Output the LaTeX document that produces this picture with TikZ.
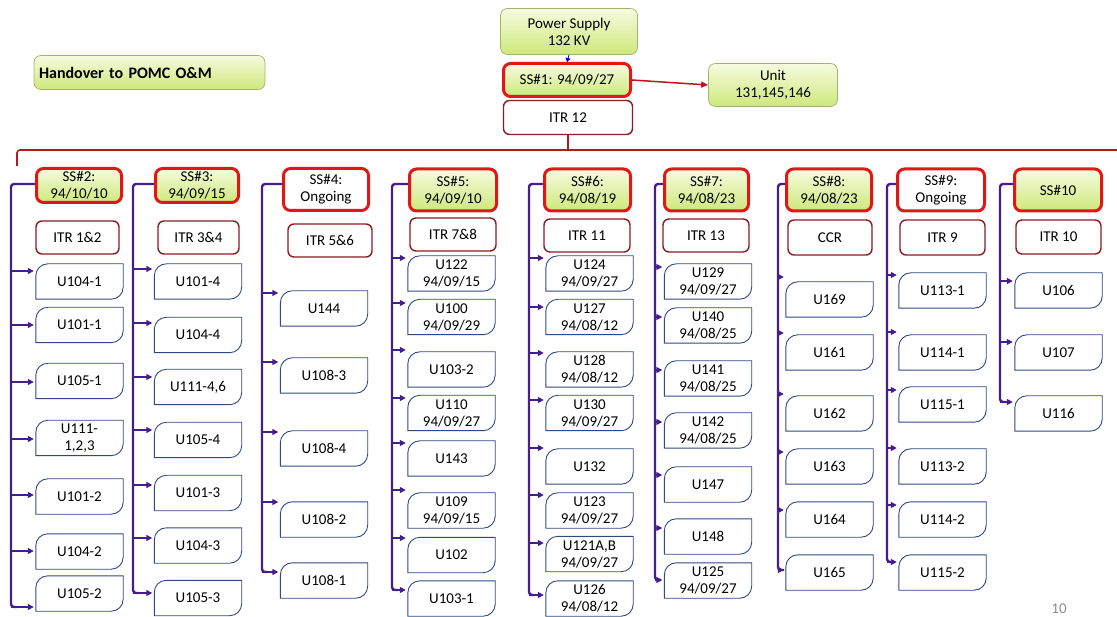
\documentclass[tikz,border=0pt]{standalone}
\usepackage{fontspec}
\setmainfont{Carlito}
\usetikzlibrary{arrows.meta,calc}
\definecolor{ssred}{RGB}{226,22,22}
\definecolor{itrred}{RGB}{140,28,36}
\definecolor{busred}{RGB}{190,20,30}
\definecolor{ublue}{RGB}{46,72,130}
\definecolor{vpurple}{RGB}{68,30,140}
\definecolor{gtop}{RGB}{246,251,224}
\definecolor{gbot}{RGB}{206,232,122}
\definecolor{gborder}{RGB}{160,180,110}
\newcommand\btxt{\fontsize{15}{17}\selectfont}
\newcommand\uitem[6]{%
  \node[ubox] (#1) at (#3,-#4) {#6};
  \draw[ushape] (#1.south west) -- ([yshift=-12pt]#1.north west) arc[start angle=180,end angle=90,radius=12pt] -- (#1.north east) -- ([yshift=12pt]#1.south east) arc[start angle=0,end angle=-90,radius=12pt] -- cycle;
  \draw[uarrow] (#2 |- 0,-#5) -- (#1.west |- 0,-#5);
}
\newcommand\colline[3]{%
  \coordinate (#2) at (#3,-184);
  \draw[vline, rounded corners=3pt] (#1.west |- #2) -- (#2) -- (#2 |- 0,-\lasty) -- ++(6,0);
}
\begin{document}
\begin{tikzpicture}[x=1pt,y=1pt,
  greenbox/.style={draw=gborder, line width=0.7pt, rounded corners=7pt, top color=gtop, bottom color=gbot, align=center, font=\btxt, inner sep=2pt},
  ssbox/.style={draw=ssred, line width=3pt, rounded corners=7pt, top color=gtop, bottom color=gbot, align=center, font=\btxt, inner sep=1pt},
  ssopen/.style={draw=ssred, line width=3pt, rounded corners=7pt, fill=white, align=center, font=\btxt, inner sep=1pt},
  itrbox/.style={draw=itrred, line width=1.4pt, rounded corners=6pt, fill=white, align=center, font=\btxt, inner sep=1pt},
  ubox/.style={minimum width=87pt, minimum height=35pt, inner sep=0pt, align=center, font=\btxt},
  ushape/.style={draw=ublue, line width=0.9pt},
  vline/.style={draw=vpurple, line width=2.4pt},
  uarrow/.style={draw=vpurple, line width=1.8pt, -{Triangle[length=6pt,width=6pt]}, shorten >=2pt},
  busline/.style={draw=busred, line width=1.6pt},
]
\useasboundingbox (0,0) rectangle (1117,-617);

% ---------- top part ----------
\node[greenbox, minimum width=231pt, minimum height=34pt, text width=221pt, align=left, font=\fontsize{16}{18}\selectfont\bfseries] (handover) at (149.5,-72.5) {Handover to POMC O\&M};
\node[greenbox, minimum width=137pt, minimum height=46pt] (power) at (569,-31.5) {Power Supply\\132 KV};
\node[ssbox, minimum width=127pt, minimum height=33pt] (ss1) at (567,-80) {SS\#1: 94/09/27};
\node[itrbox, minimum width=129pt, minimum height=34pt] (itr12) at (568,-117.5) {ITR 12};
\node[greenbox, minimum width=129pt, minimum height=43pt] (unit) at (773,-85) {Unit\\131,145,146};
\draw[draw=blue!80!black, line width=0.8pt, -{Triangle[length=4pt,width=5pt]}] (power.south) -- (ss1.north);
\draw[draw=busred, line width=1.5pt, -{Triangle[length=7pt,width=6pt]}] (ss1.east) -- (unit.west);

% bus
\coordinate (busL) at (17,-150);
\coordinate (busR) at (1117,-150);
\coordinate (busLdown) at (17,-166);
\draw[busline] (itr12.south) -- (itr12.south |- busL);
\draw[busline, rounded corners=3pt] (busLdown) -- (busL) -- (busR);

% page number
\node[font=\btxt, text=black!45] (pagenum) at (1059,-609) {10};

% ---------- column 1 ----------
\node[ssbox, minimum width=85pt, minimum height=34pt] (ss2) at (79,-185.5) {SS\#2:\\94/10/10};
\node[itrbox, minimum width=83pt, minimum height=33pt] (itr12a) at (77.5,-237.5) {ITR 1\&2};
\def\lasty{607}
\colline{ss2}{L1}{11}
\uitem{u104-1}{L1}{79.5}{281.5}{271}{U104-1}
\uitem{u101-1}{L1}{79.5}{325}{325}{U101-1}
\uitem{u105-1}{L1}{79.5}{381}{382}{U105-1}
\uitem{u111-123}{L1}{79.5}{438}{439}{U111-\\1,2,3}
\uitem{u101-2}{L1}{79.5}{496.5}{495}{U101-2}
\uitem{u104-2}{L1}{79.5}{551.5}{551}{U104-2}
\uitem{u105-2}{L1}{79.5}{593.5}{607}{U105-2}

% ---------- column 2 ----------
\node[ssbox, minimum width=83pt, minimum height=34pt] (ss3) at (197,-185.5) {SS\#3:\\94/09/15};
\node[itrbox, minimum width=81pt, minimum height=33pt] (itr34) at (198.5,-237.5) {ITR 3\&4};
\def\lasty{593}
\colline{ss3}{L2}{133}
\uitem{u101-4}{L2}{198}{281.5}{269}{U101-4}
\uitem{u104-4}{L2}{198}{335}{323}{U104-4}
\uitem{u111-46}{L2}{198}{387}{377}{U111-4,6}
\uitem{u105-4}{L2}{198}{440}{430}{U105-4}
\uitem{u101-3}{L2}{198}{493}{485}{U101-3}
\uitem{u104-3}{L2}{198}{545.5}{538}{U104-3}
\uitem{u105-3}{L2}{198}{598}{593}{U105-3}

% ---------- column 3 ----------
\node[ssopen, minimum width=85pt, minimum height=42pt] (ss4) at (326,-189.5) {SS\#4:\\Ongoing};
\node[itrbox, minimum width=84pt, minimum height=33pt] (itr56) at (330,-240.5) {ITR 5\&6};
\def\lasty{572}
\colline{ss4}{L3}{262}
\uitem{u144}{L3}{324}{308.5}{293}{U144}
\uitem{u108-3}{L3}{324}{375.5}{362}{U108-3}
\uitem{u108-4}{L3}{324}{448.5}{432}{U108-4}
\uitem{u108-2}{L3}{324}{519.5}{502}{U108-2}
\uitem{u108-1}{L3}{324}{580.5}{572}{U108-1}

% ---------- column 4 ----------
\node[ssbox, minimum width=87pt, minimum height=42pt] (ss5) at (453,-190) {SS\#5:\\94/09/10};
\node[itrbox, minimum width=86pt, minimum height=33pt] (itr78) at (453,-234.5) {ITR 7\&8};
\def\lasty{590}
\colline{ss5}{L4}{392}
\uitem{u122}{L4}{451.5}{273.5}{258}{U122\\94/09/15}
\uitem{u100}{L4}{451.5}{317}{303}{U100\\94/09/29}
\uitem{u103-2}{L4}{451.5}{369.5}{350}{U103-2}
\uitem{u110}{L4}{451.5}{413}{398}{U110\\94/09/27}
\uitem{u143}{L4}{451.5}{458.5}{443}{U143}
\uitem{u109}{L4}{451.5}{510.5}{490}{U109\\94/09/15}
\uitem{u102}{L4}{451.5}{555}{538}{U102}
\uitem{u103-1}{L4}{451.5}{598.5}{590}{U103-1}

% ---------- column 5 ----------
\node[ssbox, minimum width=86pt, minimum height=42pt] (ss6) at (587.5,-190) {SS\#6:\\94/08/19};
\node[itrbox, minimum width=86pt, minimum height=33pt] (itr11) at (587,-235.5) {ITR 11};
\def\lasty{595}
\colline{ss6}{L5}{529}
\uitem{u124}{L5}{589.5}{273.5}{258}{U124\\94/09/27}
\uitem{u127}{L5}{589.5}{317}{307}{U127\\94/08/12}
\uitem{u128}{L5}{589.5}{369.5}{353}{U128\\94/08/12}
\uitem{u130}{L5}{589.5}{413}{400}{U130\\94/09/27}
\uitem{u132}{L5}{589.5}{466.5}{448}{U132}
\uitem{u123}{L5}{589.5}{510.5}{495}{U123\\94/09/27}
\uitem{u121}{L5}{589.5}{554}{543}{U121A,B\\94/09/27}
\uitem{u126}{L5}{589.5}{598.5}{595}{U126\\94/08/12}

% ---------- column 6 ----------
\node[ssbox, minimum width=84pt, minimum height=42pt] (ss7) at (706.5,-190) {SS\#7:\\94/08/23};
\node[itrbox, minimum width=86pt, minimum height=33pt] (itr13) at (706,-235.5) {ITR 13};
\def\lasty{580}
\colline{ss7}{L6}{655}
\uitem{u129}{L6}{708}{281.5}{267}{U129\\94/09/27}
\uitem{u140}{L6}{708}{325.5}{317}{U140\\94/08/25}
\uitem{u141}{L6}{708}{378.5}{370}{U141\\94/08/25}
\uitem{u142}{L6}{708}{430.5}{422}{U142\\94/08/25}
\uitem{u147}{L6}{708}{484.5}{475}{U147}
\uitem{u148}{L6}{708}{536.5}{528}{U148}
\uitem{u125}{L6}{708}{580.5}{580}{U125\\94/09/27}

% ---------- column 7 ----------
\node[ssbox, minimum width=85pt, minimum height=42pt] (ss8) at (829,-190) {SS\#8:\\94/08/23};
\node[itrbox, minimum width=84pt, minimum height=35pt] (ccr) at (830,-237.5) {CCR};
\def\lasty{570}
\colline{ss8}{L7}{778}
\uitem{u169}{L7}{829.5}{299.5}{277}{U169}
\uitem{u161}{L7}{829.5}{352.5}{333}{U161}
\uitem{u162}{L7}{829.5}{413.5}{394}{U162}
\uitem{u163}{L7}{829.5}{466.5}{452}{U163}
\uitem{u164}{L7}{829.5}{519.5}{510}{U164}
\uitem{u165}{L7}{829.5}{572.5}{570}{U165}

% ---------- column 8 ----------
\node[ssopen, minimum width=87pt, minimum height=42pt] (ss9) at (941,-190) {SS\#9:\\Ongoing};
\node[itrbox, minimum width=85pt, minimum height=35pt] (itr9) at (942.5,-237.5) {ITR 9};
\def\lasty{562}
\colline{ss9}{L8}{887}
\uitem{u113-1}{L8}{942.5}{290.5}{275}{U113-1}
\uitem{u114-1}{L8}{942.5}{352.5}{332}{U114-1}
\uitem{u115-1}{L8}{942.5}{404.5}{390}{U115-1}
\uitem{u113-2}{L8}{942.5}{466.5}{448}{U113-2}
\uitem{u114-2}{L8}{942.5}{519.5}{505}{U114-2}
\uitem{u115-2}{L8}{942.5}{572.5}{562}{U115-2}

% ---------- column 9 ----------
\node[ssbox, minimum width=87pt, minimum height=42pt] (ss10) at (1058,-190) {SS\#10};
\node[itrbox, minimum width=85pt, minimum height=34pt] (itr10) at (1058.5,-237) {ITR 10};
\def\lasty{402}
\colline{ss10}{L9}{1000}
\uitem{u106}{L9}{1058.5}{290.5}{281}{U106}
\uitem{u107}{L9}{1058.5}{352.5}{342}{U107}
\uitem{u116}{L9}{1058.5}{413.5}{402}{U116}
\end{tikzpicture}
\end{document}
